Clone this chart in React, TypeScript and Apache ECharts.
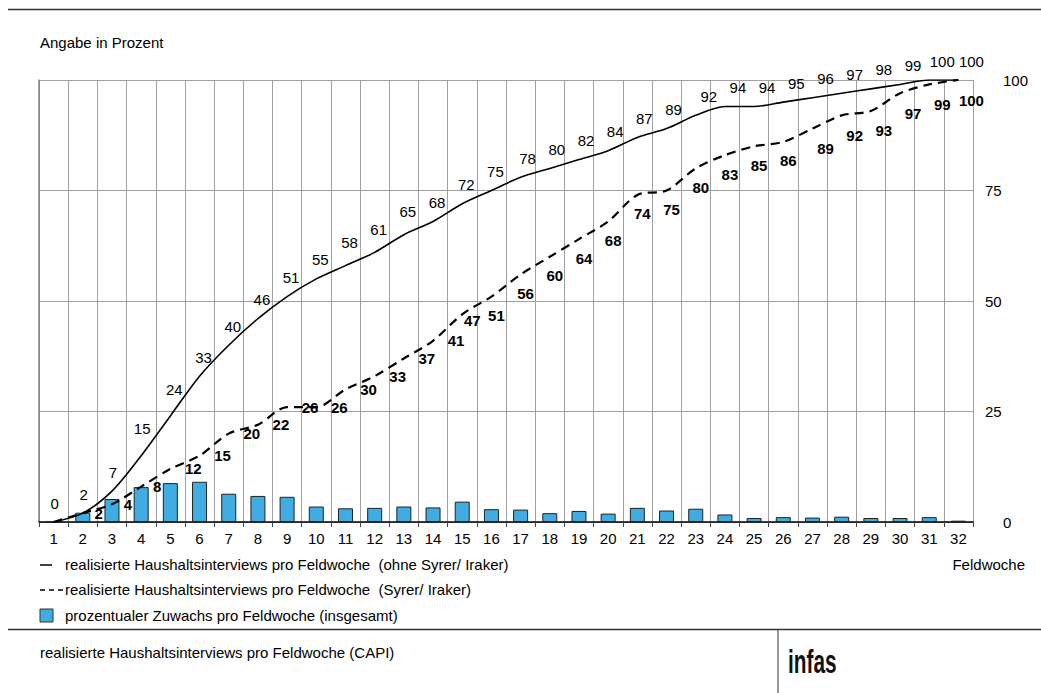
import React, { useEffect, useRef } from "react";
import * as echarts from "echarts";

const weeks = Array.from({ length: 32 }, (_, i) => String(i + 1));
const ohneSyrer = [0, 2, 7, 15, 24, 33, 40, 46, 51, 55, 58, 61, 65, 68, 72, 75, 78, 80, 82, 84, 87, 89, 92, 94, 94, 95, 96, 97, 98, 99, 100, 100];
const syrerIraker = [0, 2, 4, 8, 12, 15, 20, 22, 26, 26, 30, 33, 37, 41, 47, 51, 56, 60, 64, 68, 74, 75, 80, 83, 85, 86, 89, 92, 93, 97, 99, 100];
const zuwachs = [0, 2.1, 5.2, 7.9, 8.8, 9.1, 6.4, 5.9, 5.7, 3.5, 3.1, 3.2, 3.5, 3.3, 4.6, 2.9, 2.8, 2.0, 2.5, 1.9, 3.2, 2.6, 3.0, 1.7, 0.9, 1.1, 1.0, 1.2, 0.9, 0.9, 1.1, 0.3];

const FONT = "'Liberation Sans', Arial, sans-serif";

function solidOffset(i: number): number[] {
  const dx = i < 4 ? 1 : i < 16 ? 4 : i < 22 ? 7 : 13;
  let dy = -19;
  if (i === 3) dy = -27;
  else if (i === 4) dy = -26;
  else if (i >= 10 && i <= 12) dy = -23;
  return [dx, dy];
}

function dashedOffset(i: number): number[] {
  if (i <= 3) return [16, 0];
  if (i <= 13) return [23, 0];
  if (i === 14) return [10, 6];
  if (i <= 25) return [5, 19];
  return [13, 20];
}

export default function App() {
  const ref = useRef<HTMLDivElement>(null);
  useEffect(() => {
    document.body.style.margin = "0";
    const chart = echarts.init(ref.current!, null, { renderer: "svg" });
    const option: any = {
      animation: false,
      textStyle: { fontFamily: FONT },
      grid: { left: 39, right: 68, top: 80, bottom: 171, containLabel: false, outerBoundsMode: "none" },
      xAxis: {
        type: "category",
        data: weeks,
        boundaryGap: true,
        name: "Feldwoche",
        nameLocation: "end",
        nameGap: 52,
        nameTextStyle: { fontSize: 15, color: "#000", align: "right", verticalAlign: "top", padding: [35, 0, 0, 0] },
        axisLine: { show: true, lineStyle: { color: "#000", width: 1.5 } },
        axisTick: { show: true, length: 5, lineStyle: { color: "#444" } },
        axisLabel: { fontSize: 15, color: "#000", margin: 9 },
        splitLine: { show: true, lineStyle: { color: "#a0a0a0", width: 1 } },
      },
      yAxis: [
        {
          type: "value",
          position: "right",
          min: 0,
          max: 100,
          interval: 25,
          axisLine: { show: false },
          axisTick: { show: false },
          axisLabel: {
            fontSize: 15,
            color: "#000",
            margin: 12,
            align: "left",
            formatter: (v: number) => (v === 0 || v === 100 ? `{w|${v}}` : `${v}`),
            rich: { w: { fontSize: 15, color: "#000", padding: [0, 0, 0, 18] } },
          },
          splitLine: { show: true, lineStyle: { color: "#a0a0a0", width: 1 } },
        },
        {
          type: "value",
          position: "left",
          min: 0,
          max: 100,
          interval: 25,
          axisLine: { show: true, lineStyle: { color: "#808080", width: 1.5 } },
          axisTick: { show: false },
          axisLabel: { show: false },
          splitLine: { show: false },
        },
      ],
      series: [
        {
          type: "bar",
          data: zuwachs,
          barWidth: 15,
          itemStyle: { color: "#41ACE1", borderColor: "#222", borderWidth: 1 },
          z: 2,
        },
        {
          type: "line",
          data: syrerIraker.map((v, i) => ({
            value: v,
            label: { show: i > 0, offset: dashedOffset(i) },
          })),
          smooth: 0.3,
          symbol: "circle",
          symbolSize: 1,
          showSymbol: true,
          itemStyle: { color: "rgba(0,0,0,0)" },
          lineStyle: { color: "#000", width: 2.2, type: [9, 6] },
          label: {
            show: true,
            position: "inside",
            fontSize: 15,
            fontWeight: "bold",
            color: "#000",
          },
          z: 3,
        },
        {
          type: "line",
          data: ohneSyrer.map((v, i) => ({
            value: v,
            label: { offset: solidOffset(i) },
          })),
          smooth: 0.3,
          symbol: "circle",
          symbolSize: 1,
          showSymbol: true,
          itemStyle: { color: "rgba(0,0,0,0)" },
          lineStyle: { color: "#000", width: 1.6 },
          label: {
            show: true,
            position: "inside",
            fontSize: 15,
            color: "#000",
          },
          z: 4,
        },
      ],
      graphic: [
        { type: "line", shape: { x1: 8, y1: 9.5, x2: 1041, y2: 9.5 }, style: { stroke: "#333", lineWidth: 1.5 } },
        { type: "text", left: 40, top: 35, style: { text: "Angabe in Prozent", fontSize: 15, fill: "#000", fontFamily: FONT } },
        { type: "line", shape: { x1: 40, y1: 565, x2: 52, y2: 565 }, style: { stroke: "#000", lineWidth: 1.5 } },
        { type: "text", left: 65, top: 557, style: { text: "realisierte Haushaltsinterviews pro Feldwoche  (ohne Syrer/ Iraker)", fontSize: 15, fill: "#000", fontFamily: FONT } },
        { type: "line", shape: { x1: 40, y1: 590, x2: 63, y2: 590 }, style: { stroke: "#000", lineWidth: 1.3, lineDash: [5, 4] } },
        { type: "text", left: 65, top: 582, style: { text: "realisierte Haushaltsinterviews pro Feldwoche  (Syrer/ Iraker)", fontSize: 15, fill: "#000", fontFamily: FONT } },
        { type: "rect", shape: { x: 40, y: 609, width: 13, height: 13 }, style: { fill: "#41ACE1", stroke: "#333", lineWidth: 1 } },
        { type: "text", left: 65, top: 608, style: { text: "prozentualer Zuwachs pro Feldwoche (insgesamt)", fontSize: 15, fill: "#000", fontFamily: FONT } },
        { type: "line", shape: { x1: 8, y1: 629.5, x2: 1041, y2: 629.5 }, style: { stroke: "#333", lineWidth: 1.5 } },
        { type: "line", shape: { x1: 778, y1: 630, x2: 778, y2: 693 }, style: { stroke: "#555", lineWidth: 1.2 } },
        { type: "text", left: 40, top: 645, style: { text: "realisierte Haushaltsinterviews pro Feldwoche (CAPI)", fontSize: 15, fill: "#000", fontFamily: FONT } },
        { type: "text", x: 788, y: 678, scaleX: 0.63, style: { text: "infas", fontSize: 33, fontWeight: "bold", fill: "#111", fontFamily: FONT, verticalAlign: "bottom" } },
      ],
    };
    chart.setOption(option);
    return () => chart.dispose();
  }, []);
  return <div ref={ref} style={{ width: 1041, height: 693 }} />;
}
